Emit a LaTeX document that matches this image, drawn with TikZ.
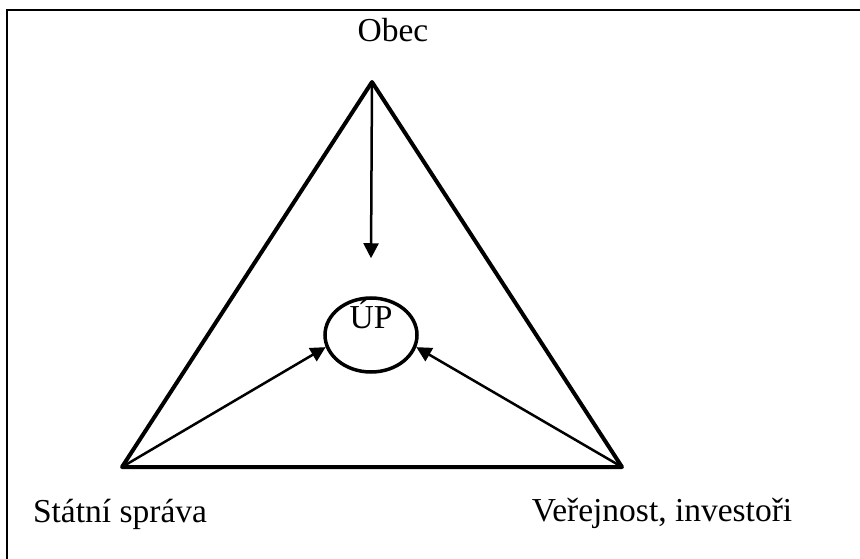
\documentclass[tikz,border=0pt]{standalone}
\usepackage{fontspec}
\setmainfont{Liberation Serif}
\usetikzlibrary{positioning, arrows.meta, shapes.geometric}

\begin{document}
\begin{tikzpicture}[
    x=1pt, y=-1pt,
    font=\fontsize{33.5}{40}\selectfont,
    >={Triangle[length=15pt, width=15pt]},
    side/.style={line width=4pt, line join=round},
    arrow/.style={->, line width=2.5pt},
    plan/.style={
        draw, ellipse, line width=3.5pt,
        minimum width=92pt, minimum height=74pt, inner sep=0pt,
        text height=10pt, text depth=24pt
    },
    label node/.style={anchor=base}
]
\useasboundingbox (0,0) rectangle (860,559);

% Frame (cut off at the right and bottom)
\draw[line width=1.5pt] (7,559) -- (7,10) -- (860,10);

% Corners of the triangle
\coordinate (obec) at (372,82);
\coordinate (stat) at (122,467);
\coordinate (verej) at (622,467);

% Nodes
\node[plan] (up) at (371,335) {ÚP};
\node[label node] (obeclabel) at (393,42) {Obec};
\node[label node] (statlabel) at (120,522) {Státní správa};
\node[label node] (vereilabel) at (662,521) {Veřejnost, investoři};

% Triangle
\draw[side] (obec) -- (stat) -- (verej) -- cycle;

% Arrows into the plan
\draw[arrow] (obec) -- ([yshift=38pt]up.north);
\draw[arrow] (stat) -- (up.195);
\draw[arrow] (verej) -- (up.345);

\end{tikzpicture}
\end{document}
